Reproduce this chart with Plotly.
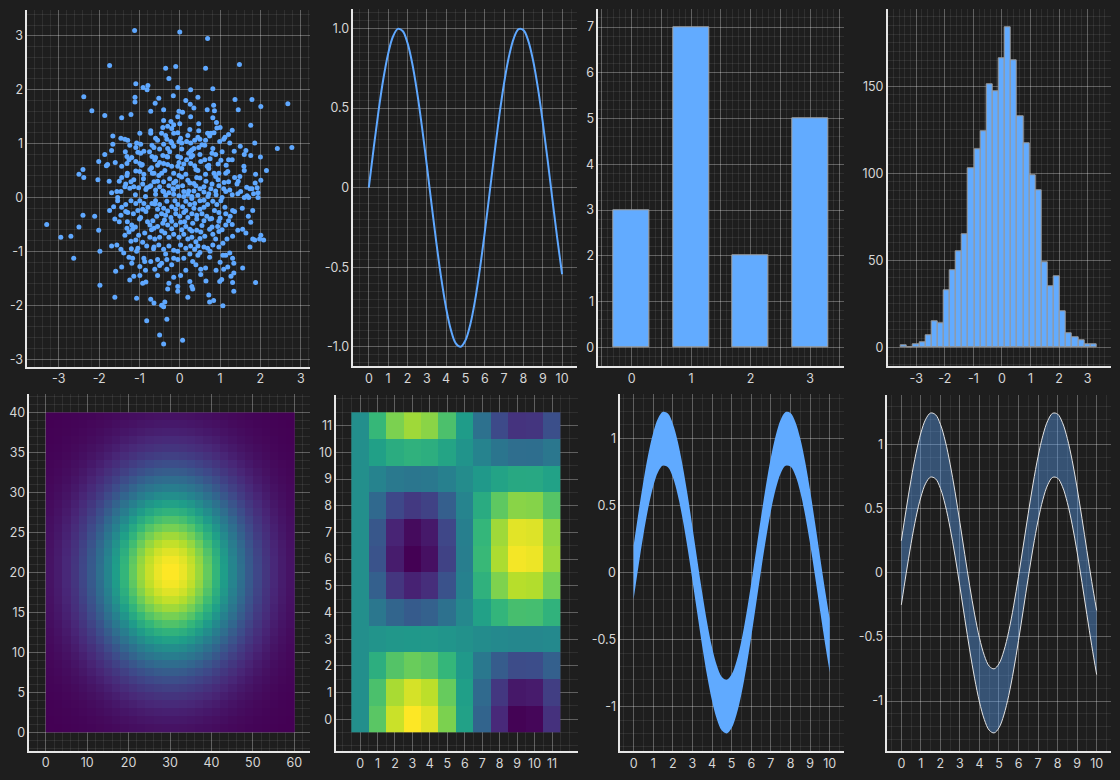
import plotly.graph_objects as go
from plotly.subplots import make_subplots

BG = '#1e1e1e'
BLUE = '#5fa8ff'
GRID = 'rgba(255,255,255,0.24)'
MINOR = 'rgba(255,255,255,0.08)'
AXIS = '#e6e6e6'
TXT = '#d6d6d6'

# --- panel 1: scatter cloud
scatter_x = [
    -1.12, 0.00, 0.69, -1.74, 1.48, -0.35, -0.10, 0.64, -0.27, -1.09,
    -0.91, -0.79, -0.81, -0.05, 0.27, 0.82, -2.38, -1.11, -1.11, -0.52,
    -0.61, -0.16, 0.45, 0.15, 0.26, 0.35, 0.84, 0.86, 0.68, 1.37,
    1.45, 1.79, 2.01, 2.68, -2.18, -1.86, -1.44, -1.21, -0.72, -0.40,
    -0.02, 0.07, -0.05, 0.27, 0.47, 0.82, 0.91, 0.92, 1.76, -0.40,
    -0.22, -0.15, 0.00, -0.72, -0.72, -0.42, -0.30, -0.20, 0.25, 0.47,
    0.69, 0.77, 0.74, -0.45, -0.15, -0.99, -1.66, -1.46, -1.36, -1.29,
    -1.24, -1.66, -1.09, -0.97, -1.07, -1.04, -0.97, -0.89, -0.69, -0.64,
    -0.55, -0.40, -0.32, -0.22, -0.20, -0.15, -0.30, -0.02, 0.05, 0.02,
    0.17, 0.27, 0.37, 0.50, 0.35, 0.27, 0.22, 0.32, 0.47, 0.62,
    0.64, 0.82, 0.89, 0.99, 1.09, 1.21, 1.24, 1.12, 1.35, 1.64,
    1.76, 1.86, 2.42, 2.78, -1.86, -1.69, -1.82, -1.79, -2.01, -2.50,
    -2.40, -2.38, -2.03, -1.31, -1.26, -1.31, -1.19, -1.09, -0.99, -0.93,
    -1.09, -0.99, -0.89, -0.69, -0.60, -0.62, -0.42, -0.32, -0.40, -0.55,
    -0.74, -0.64, -0.52, -0.37, -0.30, -0.05, 0.02, 0.17, -0.05, 0.05,
    -0.15, -0.02, 0.15, 0.27, 0.37, 0.52, 0.62, 0.72, 0.72, 0.45,
    0.64, 0.42, 0.97, 0.89, 1.02, 1.21, 1.19, 1.14, 1.36, 1.49,
    1.59, 1.88, 2.15, 2.01, 1.87, 1.42, 1.66, 1.74, 1.51, 1.44,
    1.92, 1.94, 1.79, 1.83, 1.60, 1.71, 1.67, 1.94, 1.24, 1.14,
    1.09, 1.21, 0.97, 0.89, 0.77, 0.72, 0.60, 0.50, 0.40, 0.25,
    0.35, 0.20, 0.07, -0.05, -0.15, -0.27, -0.40, -0.50, -0.64, -0.72,
    -0.82, -0.92, -1.02, -1.14, -1.24, -1.36, -1.46, -1.56, -1.69, -1.54,
    -1.34, -1.14, -1.31, -1.44, -1.44, -1.21, -0.84, -0.60, -0.40, -0.27,
    -0.17, 0.10, -0.02, 0.30, -3.30, -2.95, -2.70, -2.50, -2.40, -2.63,
    -2.11, -2.01, -1.98, -1.98, -1.61, -1.59, -1.69, -1.56, -1.46, -1.61,
    -1.64, -1.54, -1.74, -1.44, -1.34, -1.29, -1.34, -1.46, -1.36, -1.31,
    -1.26, -1.19, -1.17, -1.21, -1.09, -1.02, -0.97, -1.04, -0.92, -0.84,
    -0.79, -0.89, -0.99, -1.09, -1.21, -0.69, -0.60, -0.50, -0.40, -0.32,
    -0.20, -0.12, -0.05, 0.07, 0.15, 0.25, 0.37, 0.50, 0.60, 0.69,
    0.82, 0.92, 1.02, 1.12, 0.86, 0.97, 1.14, 1.31, 1.36, 1.21,
    1.14, 0.97, 0.94, 0.97, 0.89, 0.82, 0.74, 0.79, 0.67, 0.60,
    0.55, 0.50, 0.42, 0.30, 0.20, 0.10, 0.00, -0.10, -0.22, -0.35,
    -0.45, -0.57, -0.67, -0.74, -0.64, -0.55, -0.42, -0.30, -0.20, -0.10,
    0.02, 0.15, 0.25, 0.32, 0.42, 0.52, 0.62, 0.50, 0.40, 0.30,
    0.20, 0.10, -0.02, -0.15, -0.27, -0.37, -0.50, -0.62, -0.74, -0.87,
    -0.92, -0.82, -0.64, -0.52, -0.40, -0.27, -0.15, 0.02, 0.15, 0.27,
    0.37, 0.50, 0.60, 0.69, 0.82, 0.97, 1.07, 1.17, 1.31, 1.44,
    1.56, 1.64, 1.74, 1.81, 1.86, 1.98, 2.08, 2.01, 1.81, 1.76,
    1.88, 1.56, 1.34, 1.31, 1.34, 1.31, 1.34, 1.19, 1.09, 1.04,
    0.99, 1.07, 1.14, 1.24, 1.27, 1.07, 0.72, 0.74, 0.84, 0.52,
    0.64, 0.52, 0.74, 0.45, 0.32, 0.25, 0.30, 0.32, 0.10, 0.02,
    -0.05, -0.05, -0.15, -0.27, -0.32, -0.32, -0.15, -0.05, -0.45, -0.55,
    -0.50, -0.62, -0.72, -0.89, -0.87, -0.99, -1.07, -1.04, -1.17, -1.14,
    -1.24, -0.99, -0.92, -0.84, -1.07, -0.72, -0.64, -0.45, -0.40, -0.37,
    -0.32, -0.82, -0.50, -0.40, 0.07, -1.26, -1.39, -1.19, -1.44,
    -0.90, -0.75, -0.55, -0.45, -0.25, -0.10, 0.05, 0.20, 0.35, 0.50,
    0.65, 0.80, 0.95, 1.10, -1.10, -0.85, -0.60, -0.35, -0.15, 0.10,
    0.30, 0.45, 0.70, 0.90, 1.05, 1.30, -1.00, -0.80, -0.55, -0.30,
    -0.10, 0.15, 0.35, 0.60, 0.75, 1.00, 1.25, -1.15, -0.70, -0.45,
    -0.20, 0.05, 0.30, 0.55, 0.80, 1.05, 1.30, -0.95, -0.70, -0.50,
    -0.20, 0.10, 0.40, 0.50, 0.75, 0.95, 1.15, 1.30, -0.75, -0.50,
    -0.25, 0.05, 0.30, 0.55, 0.80, 1.05, -0.60, -0.35, -0.05, 0.20,
    0.45, 0.85, 1.00, -1.30, -1.50, -1.60, -1.50, -1.30, -1.10, -1.35,
    -1.20, -0.65, -0.35, -0.05, 0.25, 0.45, 0.75, 1.00, 0.90, -0.85,
    -0.55, -0.20, 0.15, 0.40, 0.65, -0.30, 0.20, -0.15, 0.22, 0.60,
    -0.42, -0.68, 0.85, 1.45, 1.60, 1.55, 1.70, 1.50, 1.30, 1.60,
    -1.75, 2.00, 0.12, -0.38, 0.42,
    -0.62, 0.68, -0.02, 0.28, -0.30,
]
scatter_y = [
    3.10, 3.07, 2.95, 2.45, 2.47, 2.40, 2.43, 2.40, 2.21, 2.11,
    2.04, 2.08, 2.00, 2.04, 2.00, 2.02, 1.87, 1.86, 1.77, 1.84,
    1.75, 1.89, 1.86, 1.80, 1.73, 1.66, 1.71, 1.61, 1.63, 1.82,
    1.63, 1.82, 1.69, 1.74, 1.61, 1.52, 1.48, 1.54, 1.60, 1.63,
    1.60, 1.58, 1.50, 1.50, 1.37, 1.48, 1.39, 1.29, 1.34, 1.43,
    1.41, 1.35, 1.37, 1.24, 1.19, 1.30, 1.32, 1.28, 1.26, 1.24,
    1.19, 1.19, 1.14, 1.19, 1.19, 1.19, 1.14, 1.10, 1.08, 1.06,
    0.97, 0.99, 0.93, 0.99, 1.01, 0.84, 0.82, 0.86, 0.97, 0.93,
    1.06, 0.99, 1.08, 1.04, 1.01, 0.95, 0.91, 1.04, 1.01, 1.10,
    1.04, 1.01, 1.06, 1.08, 0.91, 0.86, 0.82, 0.78, 0.93, 0.97,
    1.06, 0.91, 0.80, 1.04, 1.08, 1.17, 1.01, 1.12, 0.86, 0.87,
    0.78, 1.01, 0.91, 0.93, 0.80, 0.87, 0.59, 0.61, 0.67, 0.43,
    0.52, 0.37, 0.33, 0.76, 0.70, 0.63, 0.74, 0.67, 0.63, 0.61,
    0.49, 0.48, 0.43, 0.76, 0.74, 0.70, 0.78, 0.76, 0.63, 0.60,
    0.52, 0.45, 0.41, 0.50, 0.61, 0.76, 0.74, 0.70, 0.58, 0.54,
    0.45, 0.41, 0.43, 0.63, 0.59, 0.67, 0.70, 0.54, 0.60, 0.50,
    0.43, 0.37, 0.45, 0.39, 0.69, 0.70, 0.48, 0.45, 0.37, 0.39,
    0.58, 0.43, 0.50, 0.32, 0.27, 0.25, 0.19, 0.16, 0.11, 0.07,
    0.18, 0.09, 0.16, 0.07, 0.00, 0.00, 0.03, 0.00, 0.14, 0.11,
    0.16, 0.29, 0.22, 0.12, 0.16, 0.07, 0.20, 0.16, 0.22, 0.27,
    0.12, 0.06, 0.22, 0.20, 0.27, 0.22, 0.29, 0.20, 0.29, 0.22,
    0.18, 0.25, 0.18, 0.20, 0.17, 0.20, 0.11, 0.11, 0.09, 0.00,
    0.25, 0.33, 0.41, 0.37, 0.58, 0.29, 0.15, 0.14, 0.11, 0.09,
    0.16, 0.11, 0.03, 0.02, -0.50, -0.74, -0.72, -0.55, -0.33, -1.13,
    -0.35, -0.61, -1.00, -1.63, -1.85, -1.37, -0.90, -0.88, -0.96, -0.40,
    -0.17, -0.06, -0.24, -0.18, -0.26, -0.28, -0.13, -0.33, -0.70, -0.57,
    -0.64, -0.51, -0.59, -0.81, -0.79, -0.70, -0.37, -0.24, -0.22, -0.26,
    -0.18, -0.11, -0.06, -0.11, -0.06, -0.11, -0.06, -0.13, -0.20, -0.07,
    -0.17, -0.06, -0.13, -0.17, -0.07, -0.13, -0.11, -0.06, -0.18, -0.13,
    -0.07, -0.13, -0.06, -0.18, -0.24, -0.28, -0.30, -0.24, -0.26, -0.43,
    -0.51, -0.44, -0.54, -0.63, -0.77, -0.68, -0.59, -0.39, -0.35, -0.43,
    -0.30, -0.22, -0.33, -0.30, -0.37, -0.28, -0.35, -0.30, -0.37, -0.33,
    -0.30, -0.35, -0.43, -0.51, -0.57, -0.54, -0.48, -0.51, -0.44, -0.51,
    -0.46, -0.54, -0.59, -0.48, -0.61, -0.64, -0.72, -0.76, -0.82, -0.74,
    -0.77, -0.68, -0.74, -0.68, -0.74, -0.66, -0.74, -0.77, -0.74, -0.66,
    -0.83, -0.90, -0.92, -0.88, -0.96, -0.90, -0.98, -0.88, -0.94, -0.90,
    -0.96, -1.02, -0.92, -0.94, -0.88, -0.92, -0.85, -0.77, -0.72, -0.61,
    -0.59, -0.66, -0.92, -0.77, -0.79, -0.77, -0.79, -0.70, -0.24, -0.46,
    -1.58, -1.31, -1.22, -1.13, -1.40, -1.58, -1.74, -1.29, -1.33, -1.52,
    -1.56, -1.07, -1.07, -1.03, -1.46, -2.01, -1.81, -1.94, -1.91, -1.33,
    -1.31, -1.43, -1.11, -1.07, -1.19, -1.56, -1.65, -1.70, -1.13, -1.45,
    -1.65, -1.74, -1.48, -1.59, -1.15, -1.33, -1.13, -1.15, -1.22, -1.15,
    -1.26, -1.33, -1.19, -1.13, -1.19, -1.28, -1.00, -0.94, -1.13, -1.46,
    -1.53, -1.45, -1.59, -1.57, -1.87, -1.89, -1.96, -2.00, -2.03, -1.94,
    -2.26, -2.29, -2.55, -2.72, -2.65, -1.11, -1.03, -1.22, -1.29,
    0.35, 0.20, 0.30, 0.45, 0.35, 0.30, 0.38, 0.32, 0.26, 0.36,
    0.30, 0.25, 0.33, 0.28, 0.05, 0.02, 0.06, 0.04, 0.06, 0.02,
    -0.02, 0.04, 0.02, 0.05, 0.00, 0.05, -0.40, -0.45, -0.22, -0.25,
    -0.22, -0.24, -0.20, -0.05, -0.40, -0.38, -0.35, -0.30, -0.60, -0.62,
    -0.58, -0.60, -0.62, -0.52, -0.55, -0.60, -0.50, 0.60, 0.55, 0.65,
    0.58, 0.62, 0.52, 0.80, 0.72, 0.62, 0.60, 0.70, 0.85, 0.90,
    0.85, 0.90, 0.88, 0.98, 0.82, 0.85, 1.10, 1.15, 1.20, 1.15,
    1.12, 1.20, 1.30, 0.45, 0.30, 0.65, -0.45, -0.45, -0.55, 0.85,
    -0.95, -0.95, -1.05, -1.00, -1.05, -0.90, -1.00, -1.20, -1.35, -1.35,
    -1.45, -1.25, -1.35, -1.25, -1.55, -1.70, -1.85, 0.15, 0.12, 0.10,
    0.12, 0.45, 0.45, 0.30, 0.50, -0.20, -0.35, 0.95, 1.25, 0.80,
    0.30, 0.75, -0.45, -0.42, -0.40,
    -0.12, 0.58, 0.65, 0.75, 0.75,
]

# --- panel 2: sine curve
sine_x = [0, 0.25, 0.5, 0.75, 1, 1.25, 1.5, 1.75, 2, 2.25, 2.5, 2.75, 3, 3.25,
          3.5, 3.75, 4, 4.25, 4.5, 4.75, 5, 5.25, 5.5, 5.75, 6, 6.25, 6.5,
          6.75, 7, 7.25, 7.5, 7.75, 8, 8.25, 8.5, 8.75, 9, 9.25, 9.5, 9.75, 10]
sine_y = [0.0, 0.247, 0.479, 0.682, 0.841, 0.949, 0.997, 0.984, 0.909, 0.778,
          0.598, 0.382, 0.141, -0.108, -0.351, -0.572, -0.757, -0.895, -0.978,
          -0.999, -0.959, -0.859, -0.706, -0.508, -0.279, -0.033, 0.215, 0.450,
          0.657, 0.823, 0.938, 0.995, 0.989, 0.922, 0.798, 0.625, 0.412, 0.174,
          -0.075, -0.319, -0.544]

# --- panel 3: bars
bar_cats = [0, 1, 2, 3]
bar_vals = [3, 7, 2, 5]

# --- panel 4: histogram counts
hist_start = -3.536
hist_width = 0.2141
hist_counts = [1, 0, 2, 3, 7, 15, 14, 33, 44, 55, 65, 103, 114, 124, 151, 147,
               166, 184, 165, 133, 117, 99, 90, 49, 35, 41, 21, 8, 6, 4, 2, 2]

# --- panel 5: gaussian blob profiles (columns / rows)
gauss_x = [0.054, 0.080, 0.114, 0.159, 0.216, 0.286, 0.367, 0.458, 0.556, 0.657,
           0.755, 0.844, 0.917, 0.969, 0.997, 0.997, 0.969, 0.917, 0.844, 0.755,
           0.657, 0.556, 0.458, 0.367, 0.286, 0.216, 0.159, 0.114, 0.080, 0.054]
gauss_y = [0.051, 0.069, 0.091, 0.119, 0.153, 0.193, 0.241, 0.295, 0.356, 0.423,
           0.494, 0.569, 0.644, 0.719, 0.790, 0.854, 0.909, 0.952, 0.983, 0.998,
           0.998, 0.983, 0.952, 0.909, 0.854, 0.790, 0.719, 0.644, 0.569, 0.494,
           0.423, 0.356, 0.295, 0.241, 0.193, 0.153, 0.119, 0.091, 0.069, 0.051]

# --- panel 6: wave grid profiles
wave_x = [0.0, 0.479, 0.841, 0.997, 0.909, 0.598, 0.141, -0.351, -0.757, -0.978, -0.959, -0.706]
wave_y = [1.0, 0.878, 0.540, 0.071, -0.416, -0.801, -0.990, -0.936, -0.654, -0.211, 0.284, 0.709]

# --- panels 7/8: band half widths around the sine
band_a = 0.2
band_b = 0.25

hist_x = [hist_start + hist_width * (i + 0.5) for i in range(len(hist_counts))]
gauss_z = [[gy * gx for gx in gauss_x] for gy in gauss_y]
wave_z = [[wy * wx for wx in wave_x] for wy in wave_y]
a_lo = [v - band_a for v in sine_y]
a_hi = [v + band_a for v in sine_y]
b_lo = [v - band_b for v in sine_y]
b_hi = [v + band_b for v in sine_y]

fig = make_subplots(rows=2, cols=4)

fig.add_trace(go.Scatter(x=scatter_x, y=scatter_y, mode='markers',
                         marker=dict(color=BLUE, size=5, line=dict(width=0))), row=1, col=1)
fig.add_trace(go.Scatter(x=sine_x, y=sine_y, mode='lines', line_shape='spline',
                         line=dict(color=BLUE, width=2)), row=1, col=2)
fig.add_trace(go.Bar(x=bar_cats, y=bar_vals, width=0.6,
                     marker=dict(color='#62abff', line=dict(color='#a0a0a0', width=1))), row=1, col=3)
fig.add_trace(go.Bar(x=hist_x, y=hist_counts, width=hist_width,
                     marker=dict(color='#62abff', line=dict(color='#999999', width=1))), row=1, col=4)
fig.add_trace(go.Heatmap(z=gauss_z, x0=1, dx=2, y0=0.5, dy=1, colorscale='Viridis',
                         showscale=False), row=2, col=1)
fig.add_trace(go.Heatmap(z=wave_z, x0=0, dx=1, y0=0, dy=1, colorscale='Viridis',
                         showscale=False), row=2, col=2)
fig.add_trace(go.Scatter(x=sine_x, y=a_lo, mode='lines', line_shape='spline',
                         line=dict(width=0, color=BLUE)), row=2, col=3)
fig.add_trace(go.Scatter(x=sine_x, y=a_hi, mode='lines', line_shape='spline', fill='tonexty',
                         fillcolor='rgb(96,170,255)', line=dict(width=0, color=BLUE)), row=2, col=3)
fig.add_trace(go.Scatter(x=sine_x, y=b_lo, mode='lines', line_shape='spline',
                         line=dict(width=1, color='#e4e4e4')), row=2, col=4)
fig.add_trace(go.Scatter(x=sine_x, y=b_hi, mode='lines', line_shape='spline', fill='tonexty',
                         fillcolor='rgba(95,168,255,0.38)', line=dict(width=1, color='#e4e4e4')), row=2, col=4)


def ticks(vals):
    return [('%g' % v) for v in vals]


ints = lambda a, b, s=1: list(range(a, b + 1, s))
half = [-1, -0.5, 0, 0.5, 1]

axes = [
    # name, domain, range, tickvals, ticktext, minor dtick
    ('xaxis', [0.0244, 0.2768], [-3.78, 3.23], ints(-3, 3), ticks(ints(-3, 3)), 0.2),
    ('yaxis', [0.5299, 0.9872], [-3.14, 3.48], ints(-3, 3), ticks(ints(-3, 3)), 0.2),
    ('xaxis2', [0.3155, 0.5155], [-0.80, 10.79], ints(0, 10), ticks(ints(0, 10)), 0.5),
    ('yaxis2', [0.5308, 0.9881], [-1.12, 1.12], half, ['-1.0', '-0.5', '0', '0.5', '1.0'], 0.05),
    ('xaxis3', [0.5342, 0.7536], [-0.56, 3.57], [-0.5, 0, 0.5, 1, 1.5, 2, 2.5, 3, 3.5],
     ['', '0', '', '1', '', '2', '', '3', ''], 0.1),
    ('yaxis3', [0.5308, 0.9881], [-0.41, 7.39], ints(0, 7), ticks(ints(0, 7)), 0.2),
    ('xaxis4', [0.7926, 0.9917], [-4.0, 3.81], ints(-3, 3), ticks(ints(-3, 3)), 0.2),
    ('yaxis4', [0.5308, 0.9881], [-10.7, 194.2], [0, 50, 100, 150], ['0', '50', '100', '150'], 5),
    ('xaxis5', [0.0262, 0.2768], [-3.96, 63.8], ints(0, 60, 10), ticks(ints(0, 60, 10)), 2),
    ('yaxis5', [0.0376, 0.4949], [-2.25, 42.3], ints(0, 40, 5), ticks(ints(0, 40, 5)), 1),
    ('xaxis6', [0.3003, 0.5158], [-1.36, 12.47], ints(0, 11), ticks(ints(0, 11)), 0.5),
    ('yaxis6', [0.0372, 0.4940], [-1.19, 12.16], ints(0, 11), ticks(ints(0, 11)), 0.5),
    ('xaxis7', [0.5538, 0.7536], [-0.68, 10.73], ints(0, 10), ticks(ints(0, 10)), 0.5),
    ('yaxis7', [0.0372, 0.4949], [-1.33, 1.33], half, ['-1', '-0.5', '0', '0.5', '1'], 0.1),
    ('xaxis8', [0.7922, 0.9917], [-0.72, 10.72], ints(0, 10), ticks(ints(0, 10)), 0.5),
    ('yaxis8', [0.0372, 0.4940], [-1.39, 1.39], half, ['-1', '-0.5', '0', '0.5', '1'], 0.1),
]

for name, dom, rng, tv, tt, mdt in axes:
    fig.layout[name].update(
        domain=dom, range=rng, tickmode='array', tickvals=tv, ticktext=tt,
        showgrid=True, gridcolor=GRID, gridwidth=1,
        minor=dict(tickmode='linear', tick0=0, dtick=mdt, showgrid=True,
                   gridcolor=MINOR, gridwidth=1, ticks=''),
        showline=True, linecolor=AXIS, linewidth=1.5, zeroline=False,
        ticks='', automargin=False, fixedrange=True,
        tickfont=dict(family='Inter, Roboto, sans-serif', size=12.5, color=TXT),
    )

fig.update_layout(
    template='none',
    width=1120, height=780,
    margin=dict(l=0, r=0, t=0, b=0),
    paper_bgcolor=BG, plot_bgcolor=BG,
    showlegend=False, bargap=0,
)

# the page body has a default 8px margin; drop it so the figure sits at 0,0
fig.write_html("out.html", config={'displayModeBar': False},
               post_script="document.body.style.margin='0';"
               "document.body.style.background='#1e1e1e';")
